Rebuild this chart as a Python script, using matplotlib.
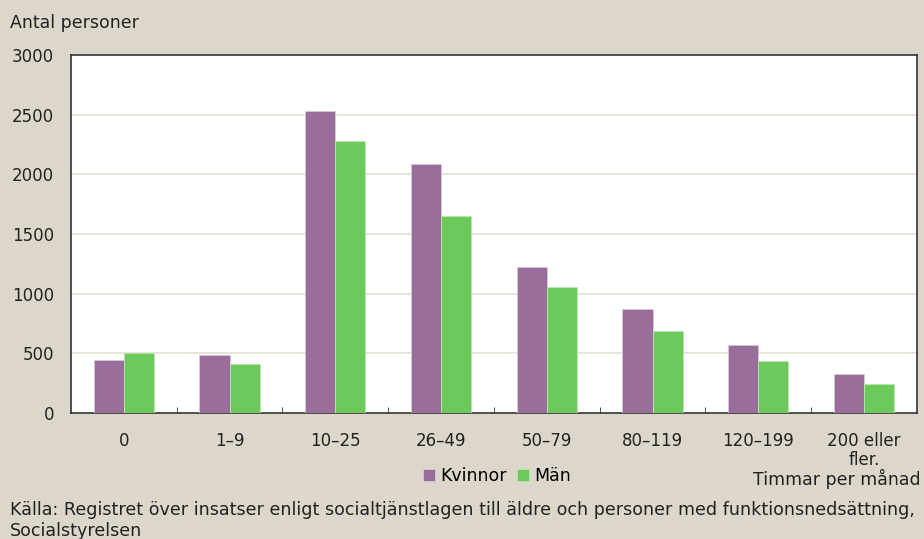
import numpy as np
import matplotlib.pyplot as plt

kategorier = ["0", "1–9", "10–25", "26–49", "50–79", "80–119", "120–199", "200 eller\nfler."]
kvinnor = [445, 487, 2531, 2086, 1221, 869, 567, 324]
man = [500, 411, 2282, 1650, 1054, 685, 439, 243]

bg = "#ddd7cb"
lila = "#996e9a"
gron = "#6dc95b"

plt.rcParams['font.family'] = ['DejaVu Sans']
fig = plt.figure(figsize=(9.24, 5.39), dpi=100, facecolor=bg)
ax = fig.add_axes([0.0768, 0.2338, 0.9156, 0.6642])
ax.set_facecolor("white")

x = np.arange(len(kategorier))
w = 0.285
ax.bar(x - w, kvinnor, w, align="edge", color=lila, edgecolor="#d9c6da", linewidth=0.6, label="Kvinnor", zorder=3)
ax.bar(x, man, w, align="edge", color=gron, edgecolor="#b8e8ae", linewidth=0.6, label="Män", zorder=3)

ax.set_xlim(-0.5, len(kategorier) - 0.5)
ax.set_ylim(0, 3000)
ax.set_yticks(range(0, 3001, 500))
for v in range(500, 3000, 500):
    ax.axhline(v, color="#e4ded4", linewidth=1.2, zorder=1)
ax.tick_params(axis="y", length=0, labelsize=12, pad=12, colors="#222222")

ax.set_xticks(x)
ax.set_xticklabels(kategorier, fontsize=12, color="#222222", linespacing=1.05)
ax.set_xticks(np.arange(0.5, len(kategorier) - 0.5, 1), minor=True)
ax.tick_params(axis="x", which="major", length=0, pad=14)
ax.tick_params(axis="x", which="minor", direction="in", length=4, color="#333333")

for s in ax.spines.values():
    s.set_color("#333333")
    s.set_linewidth(1.2)

fig.text(0.011, 0.958, "Antal personer", fontsize=12.5, color="#222222", va="center")
fig.text(0.996, 0.112, "Timmar per månad", fontsize=12.5, color="#222222", ha="right", va="center")
fig.text(0.011, 0.034, "Källa: Registret över insatser enligt socialtjänstlagen till äldre och personer med funktionsnedsättning,\nSocialstyrelsen",
         fontsize=12.6, color="#222222", va="center", linespacing=1.2)

fig.legend(loc="center", bbox_to_anchor=(0.538, 0.117), ncol=2, frameon=False, fontsize=12.5,
           handlelength=0.7, handleheight=0.7, handletextpad=0.3, columnspacing=0.6)

fig.savefig("out.png", dpi=100, facecolor=bg)
